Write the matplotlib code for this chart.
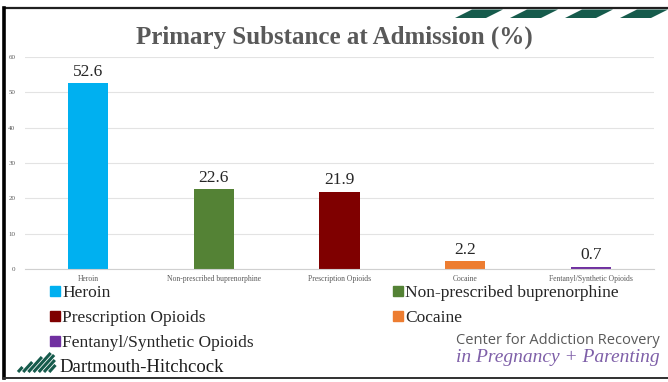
import matplotlib.pyplot as plt
from matplotlib.patches import Polygon
from matplotlib.lines import Line2D

W, H = 668, 382
substances = ["Heroin", "Non-prescribed buprenorphine", "Prescription Opioids",
              "Cocaine", "Fentanyl/Synthetic Opioids"]
percent = [52.6, 22.6, 21.9, 2.2, 0.7]
colors = ["#00B0F0", "#548235", "#7F0000", "#ED7D31", "#7030A0"]
yticks = [0, 10, 20, 30, 40, 50, 60]

GREY = "#595959"
TEAL = "#165B4C"
plt.rcParams["font.family"] = ["Liberation Serif", "DejaVu Serif"]

fig = plt.figure(figsize=(W / 100, H / 100), dpi=100)

# slide decorations drawn in pixel coordinates on a full-figure overlay
deco = fig.add_axes([0, 0, 1, 1], zorder=0)
deco.set_xlim(0, W)
deco.set_ylim(H, 0)
deco.axis("off")
deco.plot([4, W], [8, 8], color="#202020", lw=1.6)
deco.plot([4, 4], [8, 378], color="black", lw=2.6)
deco.plot([4, W], [378, 378], color="#303030", lw=1.4)
for x0 in [455, 510, 565, 620]:
    deco.add_patch(Polygon([(x0, 18), (x0 + 31, 18), (x0 + 48, 9.5), (x0 + 17, 9.5)],
                           closed=True, color=TEAL, lw=0))
for i, h in enumerate([5, 10, 15, 19, 17, 12, 7]):
    x = 18 + 5.2 * i
    deco.plot([x, x + h * 0.9], [372, 372 - h], color=TEAL, lw=2.2,
              solid_capstyle="butt")

deco.text(59, 367, "Dartmouth-Hitchcock", fontsize=13.5,
          color="#1a1a1a", ha="left", va="center")
deco.text(558, 341, "Center for Addiction Recovery", fontsize=10.5,
          family="Open Sans", color=GREY, ha="center", va="center")
deco.text(558, 358, "in Pregnancy + Parenting", fontsize=14,
          style="italic", color="#7E5FA8", ha="center", va="center")

fig.text(0.5, 1 - 37 / H, "Primary Substance at Admission (%)", fontsize=18,
         fontweight="bold", color=GREY, ha="center", va="center")

ax = fig.add_axes([25 / W, 1 - 269 / H, 629 / W, 212 / H], zorder=1)
ax.patch.set_alpha(0)
xs = range(len(substances))
bars = ax.bar(xs, percent, width=0.32, color=colors, zorder=2)
for x, v in zip(xs, percent):
    ax.text(x, v + 0.9, f"{v}", ha="center", va="bottom", fontsize=12.5,
            color="#262626")

ax.set_xlim(-0.5, len(substances) - 0.5)
ax.set_ylim(0, 60)
ax.set_yticks(yticks)
ax.set_xticks(list(xs))
ax.set_xticklabels(substances)
ax.tick_params(length=0, colors=GREY, labelsize=5.5, pad=4)
ax.yaxis.set_tick_params(pad=7, labelsize=5)
ax.grid(axis="y", color="#E3E3E3", lw=0.8, zorder=0)
for side in ["top", "right", "left"]:
    ax.spines[side].set_visible(False)
ax.spines["bottom"].set_color("#D0D0D0")

# legend: three entries in the left column, two in the right
order = [0, 2, 4, 1, 3]
handles = [Line2D([], [], ls="none", marker="s", markersize=6.5,
                  color=colors[i]) for i in order]
fig.legend(handles, [substances[i] for i in order], ncol=2, frameon=False,
           loc="upper left", bbox_to_anchor=(50 / W, 1 - 285 / H),
           fontsize=12.5, handlelength=0.6,
           handletextpad=0.1, columnspacing=8.0, labelspacing=0.5,
           labelcolor="#262626", borderaxespad=0, borderpad=0)

fig.savefig("out.png", dpi=100)
